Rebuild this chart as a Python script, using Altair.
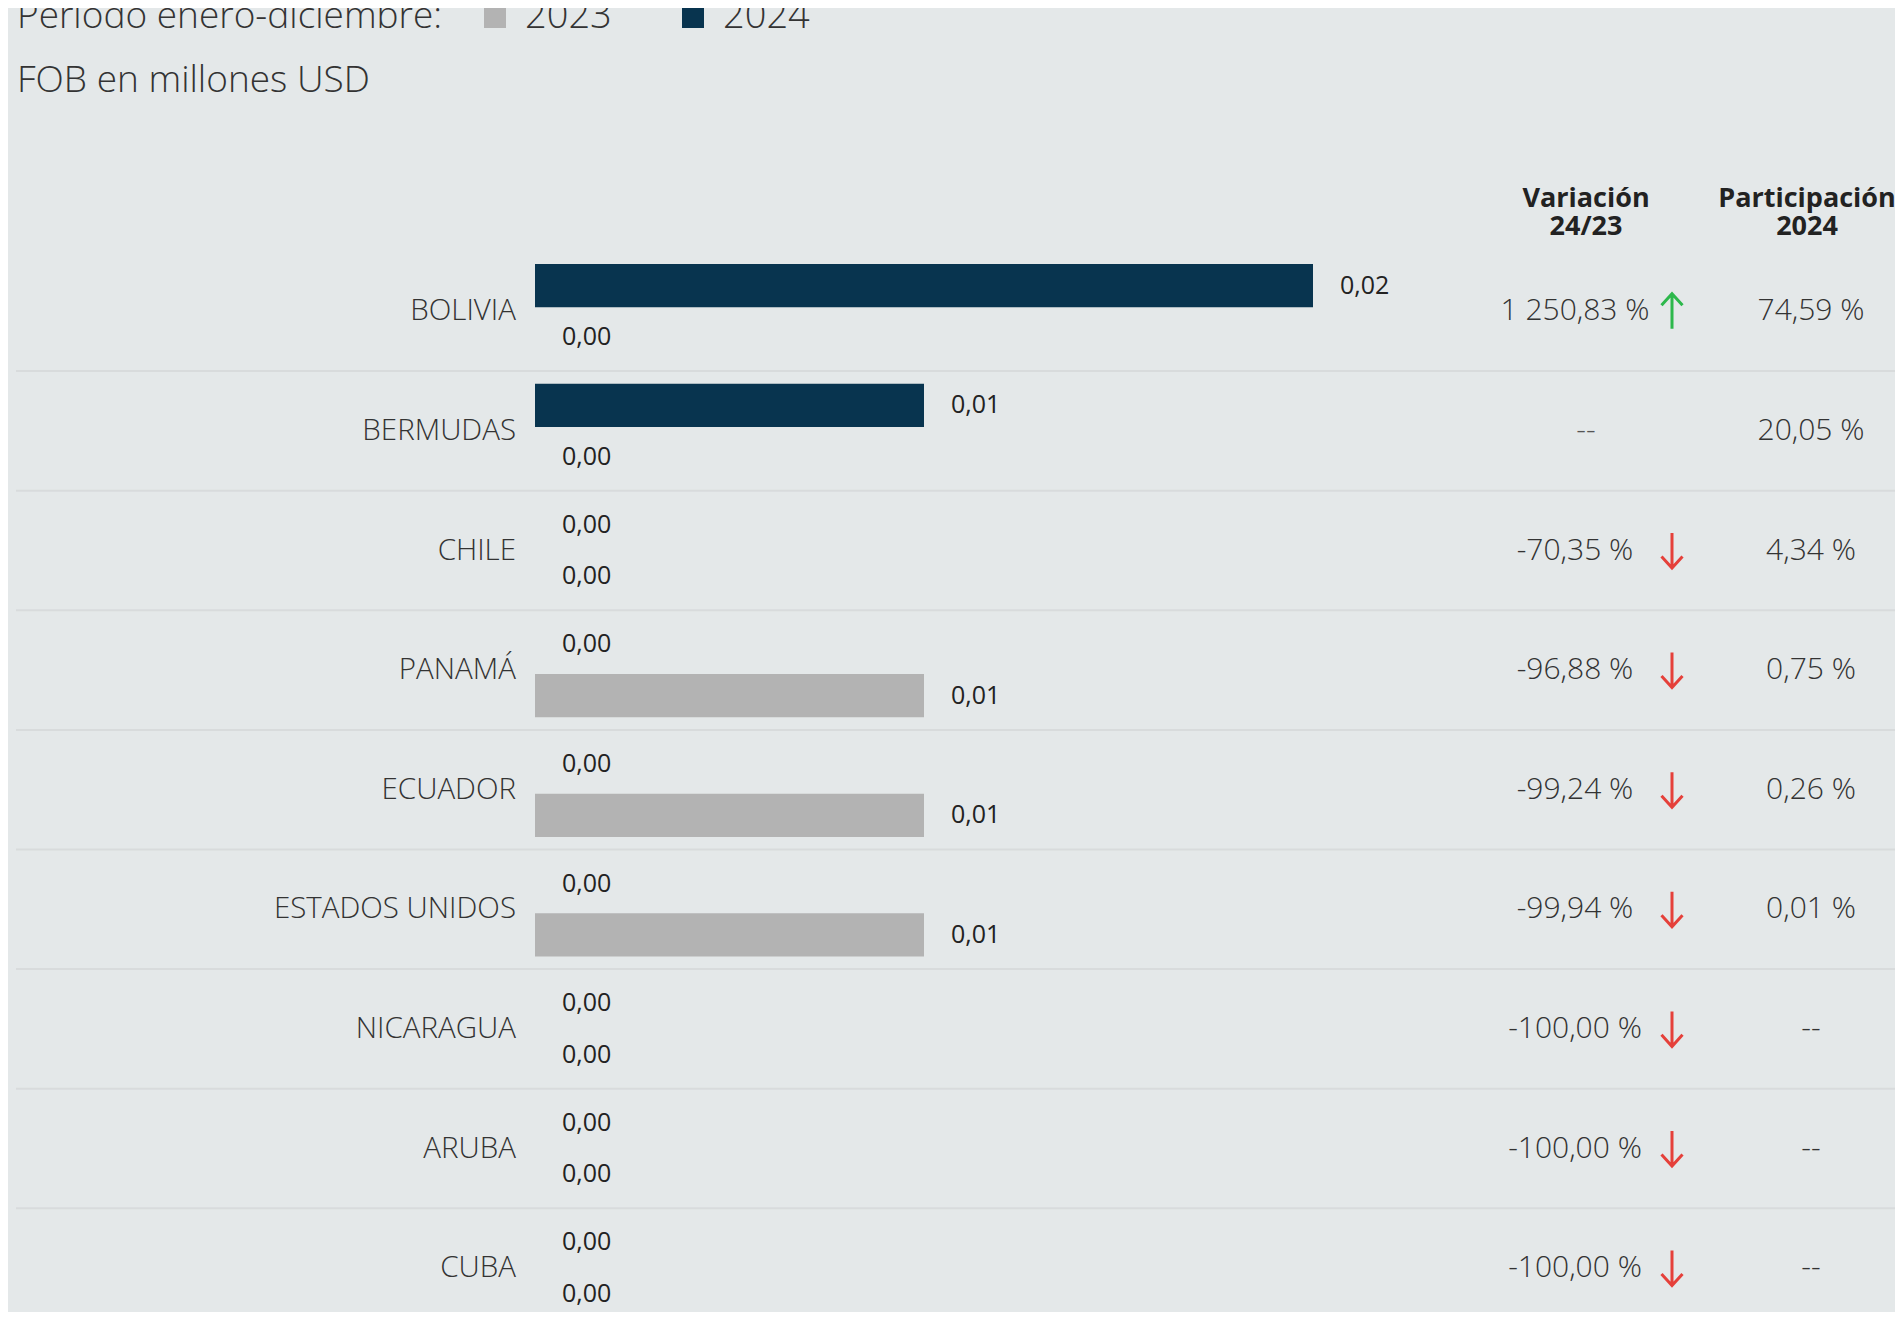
import altair as alt
import pandas as pd

# ---------------- data ----------------
countries = ["BOLIVIA", "BERMUDAS", "CHILE", "PANAMÁ", "ECUADOR",
             "ESTADOS UNIDOS", "NICARAGUA", "ARUBA", "CUBA"]
v2023 = [0.00, 0.00, 0.00, 0.01, 0.01, 0.01, 0.00, 0.00, 0.00]
v2024 = [0.02, 0.01, 0.00, 0.00, 0.00, 0.00, 0.00, 0.00, 0.00]
variacion = [1250.83, None, -70.35, -96.88, -99.24, -99.94, -100.00, -100.00, -100.00]
participacion = [74.59, 20.05, 4.34, 0.75, 0.26, 0.01, None, None, None]
years = ["2023", "2024"]
legend_title = "Periodo enero-diciembre:"
subtitle = "FOB en millones USD"
headers = ["Variación\n24/23", "Participación\n2024"]

bars_df = pd.DataFrame({
    "country": countries * 2,
    "year": [years[0]] * len(countries) + [years[1]] * len(countries),
    "value": v2023 + v2024,
})
table_df = pd.DataFrame({"country": countries, "var": variacion, "share": participacion})

# ---------------- style ----------------
BG = "#e4e8e9"
TXT = "#333333"
FONT = "Open Sans"
C2023 = "#b3b3b3"
C2024 = "#08344f"

y_scale = alt.Scale(domain=countries, range=[243.5, 1319.9], paddingInner=0, paddingOuter=0)
Y = alt.Y("country:N", sort=countries, axis=None, scale=y_scale)
YOFF = alt.YOffset("year:N", sort=["2024", "2023"],
                   scale=alt.Scale(domain=["2024", "2023"], paddingInner=0.157, paddingOuter=0.245))
X = alt.X("value:Q", axis=None, scale=alt.Scale(domain=[0, 0.02], range=[527, 1305]))

rules = alt.Chart(table_df).mark_rule(color="#d8dbdc", strokeWidth=2).encode(
    y=alt.Y("country:N", sort=countries, axis=None, scale=y_scale, bandPosition=1),
    x=alt.value(8), x2=alt.value(1887),
)

bars = alt.Chart(bars_df).mark_bar().encode(
    x=X, y=Y, yOffset=YOFF,
    color=alt.Color("year:N", scale=alt.Scale(domain=years, range=[C2023, C2024]),
                    legend=alt.Legend(
                        title=legend_title, orient="none", legendX=9, legendY=-10,
                        direction="horizontal", titleOrient="left",
                        titleFont=FONT, titleFontSize=37, titleFontWeight=300,
                        titleColor=TXT, titlePadding=33, titleLimit=1000,
                        labelFont=FONT, labelFontSize=38, labelFontWeight=300,
                        labelColor=TXT, labelOffset=11, symbolType="square",
                        symbolSize=484, symbolStrokeWidth=0, symbolOpacity=1,
                        columnPadding=62, padding=0)),
)

bar_labels = alt.Chart(bars_df).transform_calculate(
    label="replace(format(datum.value, '.2f'), '.', ',')"
).mark_text(align="left", baseline="middle", dx=27, font=FONT, fontSize=25,
            color="#222222").encode(x=X, y=Y, yOffset=YOFF, text="label:N")

country_labels = alt.Chart(table_df).mark_text(
    align="right", baseline="middle", font=FONT, fontSize=29.5, fontWeight=300, color=TXT
).encode(y=Y, x=alt.value(508), text="country:N")

var_text = alt.Chart(table_df).transform_filter("isValid(datum.var)").transform_calculate(
    vt="(datum.var < 0 ? '-' : '') + replace(replace(format(abs(datum.var), ',.2f'), ',', ' '), '.', ',') + ' %'"
).mark_text(align="center", baseline="middle", font=FONT, fontSize=30, fontWeight=300,
            color=TXT).encode(y=Y, x=alt.value(1567), text="vt:N")

var_none = alt.Chart(table_df).transform_filter("!isValid(datum.var)").transform_calculate(
    vt="'--'"
).mark_text(align="center", baseline="middle", font=FONT, fontSize=30, fontWeight=300,
            color="#555555").encode(y=Y, x=alt.value(1578), text="vt:N")

up_path = "M0,1L0,-1M-0.6,-0.34L0,-1L0.6,-0.34"
down_path = "M0,-1L0,1M-0.6,0.34L0,1L0.6,0.34"
arrows = alt.Chart(table_df).transform_filter("isValid(datum.var)").transform_calculate(
    dir="datum.var > 0 ? 'up' : 'down'"
).mark_point(filled=False, strokeWidth=3, opacity=1, size=1225).encode(
    y=Y, x=alt.value(1664),
    shape=alt.Shape("dir:N", scale=alt.Scale(domain=["up", "down"], range=[up_path, down_path]), legend=None),
    stroke=alt.Stroke("dir:N", scale=alt.Scale(domain=["up", "down"], range=["#2db84c", "#e5403a"]), legend=None),
)

share_text = alt.Chart(table_df).transform_calculate(
    st="isValid(datum.share) ? replace(format(datum.share, '.2f'), '.', ',') + ' %' : '--'"
).mark_text(align="center", baseline="middle", font=FONT, fontSize=30, fontWeight=300,
            color=TXT).encode(y=Y, x=alt.value(1803), text="st:N")

hdr_kw = dict(align="center", baseline="alphabetic", font=FONT, fontSize=27, fontWeight="bold",
              color="#222222", lineBreak="\n", lineHeight=28)
hdr1 = alt.Chart(pd.DataFrame({"h": [headers[0]]})).mark_text(**hdr_kw).encode(
    x=alt.value(1578), y=alt.value(199), text="h:N")
hdr2 = alt.Chart(pd.DataFrame({"h": [headers[1]]})).mark_text(**hdr_kw).encode(
    x=alt.value(1799), y=alt.value(199), text="h:N")

sub = alt.Chart(pd.DataFrame({"s": [subtitle]})).mark_text(
    align="left", baseline="alphabetic", font=FONT, fontSize=37, fontWeight=300, color=TXT
).encode(x=alt.value(9), y=alt.value(84), text="s:N")

chart = alt.layer(
    rules, bars, bar_labels, country_labels, var_text, var_none, arrows, share_text,
    hdr1, hdr2, sub
).properties(
    width=1887, height=1304, padding=0,
    autosize=alt.AutoSizeParams(type="none"),
    background=BG,
).configure_view(stroke=None)

chart.save("out.html", embed_options={"renderer": "svg", "actions": False})
